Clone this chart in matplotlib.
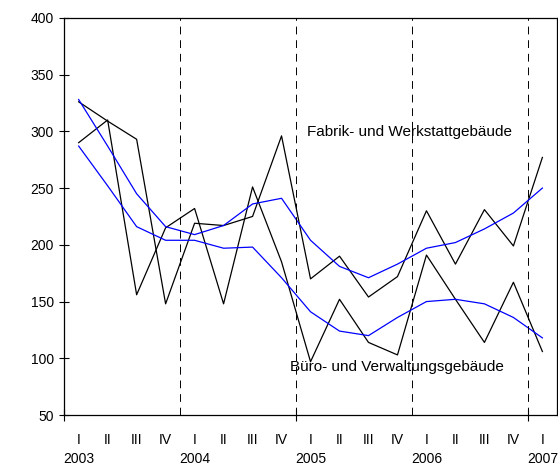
import matplotlib
matplotlib.use('Agg')
import matplotlib.pyplot as plt

plt.rcParams['font.family'] = ['Liberation Sans', 'DejaVu Sans']

quarters = ['I', 'II', 'III', 'IV'] * 4 + ['I']
years = ['2003', '2004', '2005', '2006', '2007']

# Quartalswerte 2003 I - 2007 I
fabrik = [326, 309, 293, 148, 219, 217, 225, 296, 170, 190, 154, 172, 230, 183, 231, 199, 277]
buero = [290, 310, 156, 215, 232, 148, 251, 185, 97, 152, 114, 103, 191, 152, 114, 167, 106]
# geglaettete Reihen
fabrik_trend = [328, 287, 245, 216, 209, 217, 236, 241, 204, 181, 171, 183, 197, 202, 214, 228, 250]
buero_trend = [287, 252, 216, 204, 204, 197, 198, 171, 141, 124, 120, 136, 150, 152, 148, 136, 118]

x = list(range(len(quarters)))

fig = plt.figure(figsize=(5.58, 4.69), dpi=100)
ax = fig.add_axes([0.115, 0.115, 0.883, 0.847])

ax.plot(x, fabrik, color='black', lw=0.9)
ax.plot(x, buero, color='black', lw=0.9)
ax.plot(x, fabrik_trend, color='#0000ff', lw=0.9)
ax.plot(x, buero_trend, color='#0000ff', lw=0.9)

for b in [3.5, 7.5, 11.5, 15.5]:
    ax.axvline(b, color='black', lw=0.7, linestyle=(0, (8, 6)))

ax.text(7.88, 299, 'Fabrik- und Werkstattgebäude', fontsize=11, va='center', ha='left')
ax.text(7.3, 92.5, 'Büro- und Verwaltungsgebäude', fontsize=11, va='center', ha='left')

ax.set_xlim(-0.5, 16.5)
ax.set_ylim(50, 400)
ax.set_yticks(range(50, 401, 50))
ax.tick_params(axis='y', direction='inout', length=7, width=0.8, pad=4, labelsize=10)

labels = []
for i, q in enumerate(quarters):
    if i % 4 == 0:
        labels.append(q + '\n' + years[i // 4])
    else:
        labels.append(q)
ax.set_xticks(x)
ax.set_xticklabels(labels, linespacing=1.45)
ax.tick_params(axis='x', which='major', length=0, pad=13, labelsize=10)
ax.set_xticks([-0.5, 7.5, 15.5], minor=True)
ax.tick_params(axis='x', which='minor', direction='inout', length=8, width=0.8)
for lab in ax.get_xticklabels():
    lab.set_verticalalignment('top')

for s in ax.spines.values():
    s.set_linewidth(0.9)

fig.savefig('out.png', dpi=100)
